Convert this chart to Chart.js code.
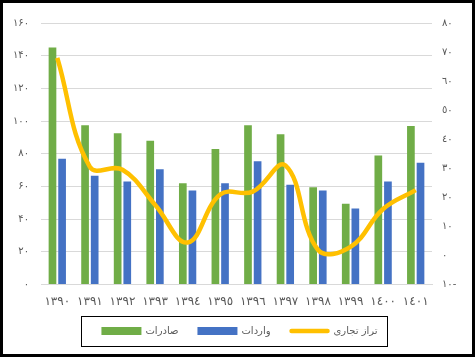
<!DOCTYPE html>
<html>
<head>
<meta charset="utf-8">
<script src="https://cdn.jsdelivr.net/npm/chart.js@4.4.0/dist/chart.umd.min.js"></script>
<style>
  html, body { margin: 0; padding: 0; background: #fff; }
  #frame { width: 475px; height: 357px; box-sizing: border-box; border: 3px solid #000; position: relative; background: #fff; }
  #wrap { width: 469px; height: 351px; position: relative; }
</style>
</head>
<body>
<div id="frame"><div id="wrap"><canvas id="c"></canvas></div></div>
<script>
// ---- data ----
const years = ['۱۳۹۰','۱۳۹۱','۱۳۹۲','۱۳۹۳','۱۳۹٤','۱۳۹٥','۱۳۹٦','۱۳۹۷','۱۳۹۸','۱۳۹۹','۱٤۰۰','۱٤۰۱'];
const exportsVals = [145, 97.5, 92.5, 88, 62, 83, 97.5, 92, 59.5, 49.5, 79, 97];
const importsVals = [77, 66.5, 63, 70.5, 57.5, 62, 75.5, 61, 57.5, 46.5, 63, 74.5];
const balanceVals = [68, 30.5, 29.5, 17.5, 4.5, 21, 22, 31, 2, 3, 16, 22.5];
const seriesNames = ['صادرات', 'واردات', 'تراز تجاری'];
const leftTickValues = [0, 20, 40, 60, 80, 100, 120, 140, 160];
const leftTickLabels = ['۰', '۲۰', '۴۰', '۶۰', '۸۰', '۱۰۰', '۱۲۰', '۱۴۰', '۱۶۰'];
const rightTickValues = [-10, 0, 10, 20, 30, 40, 50, 60, 70, 80];
const rightTickLabels = ['۱۰-', '۰', '۱۰', '۲۰', '۳۰', '٤۰', '٥۰', '٦۰', '۷۰', '۸۰'];

const textColor = '#595959';
const gridColor = '#D9D9D9';
const FONT = '"DejaVu Sans", sans-serif';

// custom bottom legend with a frame, drawn from the chart's datasets
const boxedLegend = {
  id: 'boxedLegend',
  afterDraw(chart) {
    const ctx = chart.ctx;
    const ds = chart.data.datasets;
    const fontSize = 10;
    const swW = 40, gapText = 4, gapItem = 19;
    ctx.save();
    ctx.font = fontSize + 'px ' + FONT;
    const widths = ds.map(d => swW + gapText + ctx.measureText(d.label).width);
    const total = widths.reduce((a, b) => a + b, 0) + gapItem * (ds.length - 1);
    const cx = chart.width / 2 + 2;
    const cy = 328;
    let x = cx - total / 2;
    const startX = x;
    ds.forEach((d, i) => {
      if (d.type === 'line') {
        ctx.strokeStyle = d.borderColor;
        ctx.lineWidth = 4.5;
        ctx.lineCap = 'round';
        ctx.beginPath();
        ctx.moveTo(x + 2, cy);
        ctx.lineTo(x + swW - 2, cy);
        ctx.stroke();
      } else {
        ctx.fillStyle = d.backgroundColor;
        ctx.fillRect(x, cy - 4, swW, 8);
      }
      ctx.fillStyle = textColor;
      ctx.textBaseline = 'middle';
      ctx.textAlign = 'left';
      ctx.fillText(d.label, x + swW + gapText, cy);
      x += widths[i] + gapItem;
    });
    const endX = x - gapItem;
    ctx.strokeStyle = '#000';
    ctx.lineWidth = 1;
    ctx.strokeRect(Math.round(startX - 20) + 0.5, Math.round(cy - 15) + 0.5, Math.round(endX - startX + 30), 30);
    ctx.restore();
  }
};

new Chart(document.getElementById('c'), {
  type: 'bar',
  data: {
    labels: years,
    datasets: [
      { label: seriesNames[0], data: exportsVals, backgroundColor: '#70AD47', borderWidth: 0,
        yAxisID: 'y', order: 1, categoryPercentage: 0.59, barPercentage: 0.8 },
      { label: seriesNames[1], data: importsVals, backgroundColor: '#4472C4', borderWidth: 0,
        yAxisID: 'y', order: 1, categoryPercentage: 0.59, barPercentage: 0.8 },
      { type: 'line', label: seriesNames[2], data: balanceVals, borderColor: '#FFC000', backgroundColor: '#FFC000',
        borderWidth: 4.5, tension: 0.4, pointRadius: 0, pointHoverRadius: 0,
        yAxisID: 'y1', order: 0, fill: false }
    ]
  },
  options: {
    responsive: true,
    maintainAspectRatio: false,
    animation: false,
    layout: { padding: { top: 20, left: 0, right: 0, bottom: 43 } },
    plugins: {
      tooltip: { enabled: false },
      legend: { display: false }
    },
    scales: {
      x: {
        grid: { display: false },
        border: { display: true, color: gridColor },
        ticks: { font: { family: FONT, size: 12 }, color: textColor, padding: 2, maxRotation: 0, autoSkip: false }
      },
      y: {
        position: 'left',
        min: 0, max: 160,
        grid: { color: gridColor, drawTicks: false },
        border: { display: false },
        afterFit(scale) { scale.width = 38; },
        afterBuildTicks(scale) { scale.ticks = leftTickValues.map(v => ({ value: v })); },
        ticks: {
          font: { family: FONT, size: 10 }, color: textColor, padding: 12,
          callback: (v) => leftTickLabels[leftTickValues.indexOf(v)]
        }
      },
      y1: {
        position: 'right',
        min: -10, max: 80,
        grid: { display: false, drawTicks: false },
        border: { display: false },
        afterFit(scale) { scale.width = 40; },
        afterBuildTicks(scale) { scale.ticks = rightTickValues.map(v => ({ value: v })); },
        ticks: {
          font: { family: FONT, size: 10 }, color: textColor, padding: 10,
          callback: (v) => rightTickLabels[rightTickValues.indexOf(v)]
        }
      }
    }
  },
  plugins: [boxedLegend]
});
</script>
</body>
</html>
